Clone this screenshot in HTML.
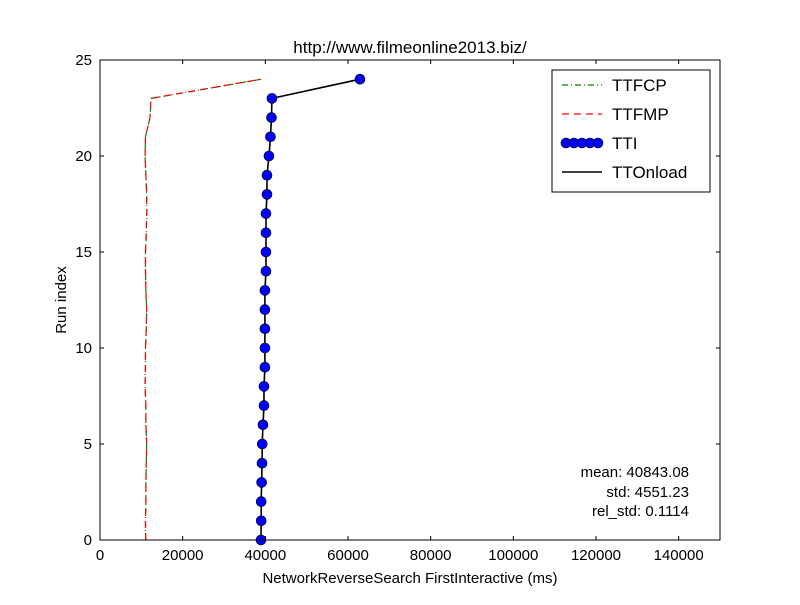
<!DOCTYPE html>
<html><head><meta charset="utf-8"><style>
body{margin:0;background:#fff;font-family:"Liberation Sans",sans-serif}
</style></head><body>
<svg id="c" width="800" height="600" xmlns="http://www.w3.org/2000/svg" font-family="Liberation Sans, sans-serif">
<rect width="800" height="600" fill="#fff"/>
<text x="410" y="53" font-size="17" text-anchor="middle">http://www.filmeonline2013.biz/</text>
<g id="plot"></g>
<text x="410" y="583" font-size="15" text-anchor="middle">NetworkReverseSearch FirstInteractive (ms)</text>
<text x="66" y="300" font-size="15" text-anchor="middle" transform="rotate(-90 66 300)">Run index</text>
<g font-size="15">
<text x="689" y="477" text-anchor="end">mean: 40843.08</text>
<text x="689" y="497" text-anchor="end">std: 4551.23</text>
<text x="689" y="516" text-anchor="end">rel_std: 0.1114</text>
</g>
<g>
<rect x="552" y="70" width="158" height="122" fill="#fff" stroke="#000"/>
<line x1="562" y1="85" x2="602" y2="85" stroke="green" stroke-width="1.2" stroke-dasharray="6,3,1,3"/>
<text x="612" y="91" font-size="17">TTFCP</text>
<line x1="562" y1="114" x2="602" y2="114" stroke="red" stroke-width="1.2" stroke-dasharray="7,5"/>
<text x="612" y="120" font-size="17">TTFMP</text>
<line x1="562" y1="143" x2="602" y2="143" stroke="#000" stroke-width="1.5"/>
<g fill="blue" stroke="#000" stroke-width="0.6"><circle cx="566" cy="143" r="5"/><circle cx="574" cy="143" r="5"/><circle cx="582" cy="143" r="5"/><circle cx="590" cy="143" r="5"/><circle cx="598" cy="143" r="5"/></g>
<text x="612" y="149" font-size="17">TTI</text>
<line x1="562" y1="172" x2="602" y2="172" stroke="#000" stroke-width="1.5"/>
<text x="612" y="178" font-size="17">TTOnload</text>
</g>
</svg>
<script>
const runs=[0,1,2,3,4,5,6,7,8,9,10,11,12,13,14,15,16,17,18,19,20,21,22,23,24];
const tti=[38950,39000,39000,39100,39200,39250,39430,39670,39670,39900,39900,39900,39900,39900,40160,40160,40160,40160,40400,40400,40880,41240,41490,41600,62900];
const ttonload=tti.slice();
const ttfcp=[11050,11000,11100,11100,11200,11300,11100,11100,10900,11000,11000,11200,11300,11100,11000,11000,11200,11300,11300,11100,10900,11000,12100,12340,39000];
const ttfmp=ttfcp.slice();
const xTicks=[0,20000,40000,60000,80000,100000,120000,140000];
const yTicks=[0,5,10,15,20,25];
const L=100,R=720,T=60,B=540,XMAX=150000,YMAX=25;
const X=v=>L+v/XMAX*(R-L), Y=v=>B-v/YMAX*(B-T);
const NS='http://www.w3.org/2000/svg', g=document.getElementById('plot');
function mk(t,a){const e=document.createElementNS(NS,t);for(const k in a)e.setAttribute(k,a[k]);g.appendChild(e);return e;}
function line(vals,stroke,dash,w,name){
 const p=mk('polyline',{points:vals.map((v,i)=>X(v)+','+Y(runs[i])).join(' '),fill:'none',stroke:stroke,'stroke-width':w,'stroke-dasharray':dash});
 
 
}
line(ttfcp,'green','6,3,1,3',1.2,'ttfcp-line');
line(ttfmp,'red','7,5',1.2,'ttfmp-line');
line(tti,'blue','',1,'tti-line');
line(ttonload,'#000','',1.6,'ttonload-line');
tti.forEach((v,i)=>{const c=mk('circle',{cx:X(v),cy:Y(runs[i]),r:5,fill:'blue',stroke:'#000','stroke-width':0.6});
 
 });
const f=mk('rect',{x:L,y:T,width:R-L,height:B-T,fill:'none',stroke:'#000'});


xTicks.forEach(v=>{mk('line',{x1:X(v),x2:X(v),y1:B,y2:B-4,stroke:'#000'});mk('line',{x1:X(v),x2:X(v),y1:T,y2:T+4,stroke:'#000'});
 const t=mk('text',{x:X(v),y:B+20,'font-size':15,'text-anchor':'middle'});t.textContent=v;
 
 });
yTicks.forEach(v=>{mk('line',{x1:L,x2:L+4,y1:Y(v),y2:Y(v),stroke:'#000'});mk('line',{x1:R,x2:R-4,y1:Y(v),y2:Y(v),stroke:'#000'});
 const t=mk('text',{x:L-8,y:Y(v)+5,'font-size':15,'text-anchor':'end'});t.textContent=v;
 
 });
</script>
</body></html>
